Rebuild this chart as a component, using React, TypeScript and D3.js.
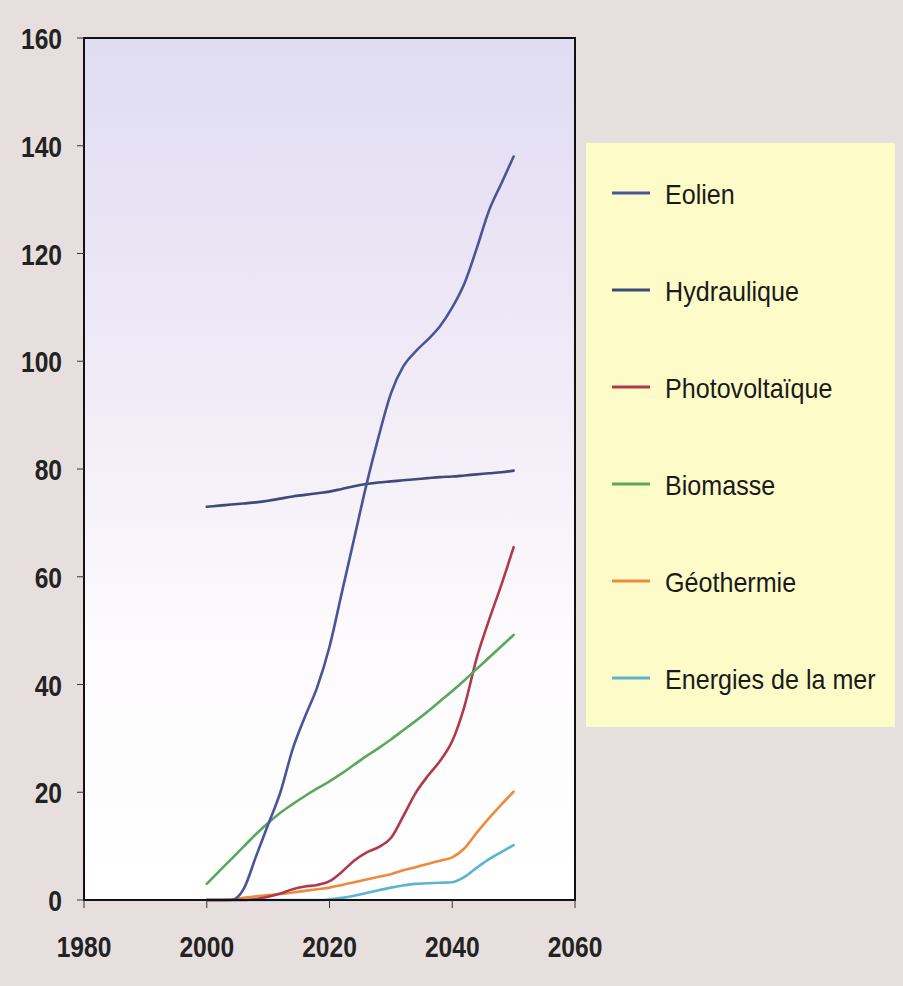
import * as d3 from 'd3';

const years = [2000, 2002, 2004, 2006, 2008, 2010, 2012, 2014, 2016, 2018, 2020, 2022, 2024,
  2026, 2028, 2030, 2032, 2034, 2036, 2038, 2040, 2042, 2044, 2046, 2048, 2050];

const eolien = [0, 0, 0, 2, 8, 14, 20, 28, 34, 39.5, 47, 57, 67,
  77, 86, 94, 99, 101.8, 104, 106.5, 110, 114.5, 121, 128, 133, 138];
const hydraulique = [73, 73.2, 73.4, 73.6, 73.8, 74.1, 74.5, 74.9, 75.2, 75.5, 75.8, 76.3, 76.8,
  77.2, 77.5, 77.7, 77.9, 78.1, 78.3, 78.5, 78.6, 78.8, 79, 79.2, 79.4, 79.7];
const photovoltaique = [0, 0, 0, 0, 0.2, 0.6, 1.2, 2, 2.5, 2.8, 3.5, 5.2, 7.3,
  8.8, 9.8, 11.5, 15.5, 19.8, 23, 25.8, 29.5, 36, 45, 52, 58.5, 65.5];
const biomasse = [3, 5.3, 7.6, 9.9, 12.2, 14.3, 16.2, 17.8, 19.3, 20.7, 22, 23.5, 25.1,
  26.7, 28.2, 29.8, 31.5, 33.2, 35, 36.9, 38.8, 40.8, 42.9, 45, 47.1, 49.2];
const geothermie = [0, 0, 0.1, 0.4, 0.7, 0.9, 1.1, 1.4, 1.7, 2, 2.3, 2.8, 3.3,
  3.8, 4.3, 4.8, 5.5, 6.1, 6.7, 7.3, 7.9, 9.6, 12.5, 15.2, 17.7, 20.1];
const mer = [0, 0, 0, 0, 0, 0, 0, 0, 0, 0, 0.1, 0.4, 0.8,
  1.3, 1.8, 2.3, 2.7, 3, 3.1, 3.2, 3.3, 4.3, 6, 7.6, 8.9, 10.2];

const seriesNames = ['Eolien', 'Hydraulique', 'Photovoltaïque', 'Biomasse', 'Géothermie', 'Energies de la mer'];
const seriesValues = [eolien, hydraulique, photovoltaique, biomasse, geothermie, mer];
const seriesColors = ['#4a5598', '#3f4a78', '#b0394a', '#5aa85e', '#ee8a3e', '#5cb3d2'];

const xTicks = [1980, 2000, 2020, 2040, 2060];
const yTicks = [0, 20, 40, 60, 80, 100, 120, 140, 160];

const W = 903;
const H = 986;
const margin = { left: 84, right: 328, top: 38, bottom: 86 };

const App = () => {
  const x = d3.scaleLinear().domain([1980, 2060]).range([margin.left, W - margin.right]);
  const y = d3.scaleLinear().domain([0, 160]).range([H - margin.bottom, margin.top]);

  const line = d3.line<number>()
    .x((_d, i) => x(years[i]))
    .y((d) => y(d))
    .curve(d3.curveMonotoneX);

  // lines sitting on zero first, so the visible ones end up on top
  const drawOrder = [5, 4, 2, 3, 1, 0];

  const font = "'Liberation Sans', Arial, sans-serif";
  const axisSquash = 0.82;
  const legendSquash = 0.93;

  return (
    <svg width={W} height={H} style={{ position: 'absolute', left: 0, top: 0 }}>
      <defs>
        <linearGradient id="plotBg" x1="0" y1="0" x2="0" y2="1">
          <stop offset="0" stopColor="#e0dcf2" />
          <stop offset="0.45" stopColor="#f2edf7" />
          <stop offset="0.7" stopColor="#fdfbfd" />
          <stop offset="1" stopColor="#ffffff" />
        </linearGradient>
      </defs>
      <rect x={0} y={0} width={W} height={H} fill="#e7dfde" />
      <rect x={x(1980)} y={y(160)} width={x(2060) - x(1980)} height={y(0) - y(160)} fill="url(#plotBg)" />

      {drawOrder.map((i) => (
        <path key={seriesNames[i]} d={line(seriesValues[i]) || ''} fill="none"
          stroke={seriesColors[i]} strokeWidth={2.6} strokeLinejoin="round" strokeLinecap="round" />
      ))}

      <rect x={x(1980)} y={y(160)} width={x(2060) - x(1980)} height={y(0) - y(160)}
        fill="none" stroke="#111" strokeWidth={2} />

      {yTicks.map((t) => (
        <g key={'y' + t}>
          <line x1={x(1980) - 7} x2={x(1980)} y1={y(t)} y2={y(t)} stroke="#333" strokeWidth={1} />
          <g transform={`translate(62,${y(t) + 11}) scale(${axisSquash},1)`}>
            <text textAnchor="end" fontFamily={font} fontWeight="bold" fontSize={30} fill="#222">{t}</text>
          </g>
        </g>
      ))}
      {xTicks.map((t) => (
        <g key={'x' + t}>
          <line x1={x(t)} x2={x(t)} y1={y(0)} y2={y(0) + 8} stroke="#333" strokeWidth={1} />
          <g transform={`translate(${x(t)},957) scale(${axisSquash},1)`}>
            <text textAnchor="middle" fontFamily={font} fontWeight="bold" fontSize={30} fill="#222">{t}</text>
          </g>
        </g>
      ))}

      <rect x={586} y={143} width={309} height={584} fill="#fdfbc7" />
      {seriesNames.map((name, i) => {
        const ly = 193 + i * 97;
        return (
          <g key={'leg' + name}>
            <line x1={612} x2={650} y1={ly} y2={ly} stroke={seriesColors[i]} strokeWidth={3} />
            <g transform={`translate(665,${ly + 11}) scale(${legendSquash},1)`}>
              <text fontFamily={font} fontSize={27} fill="#1a1a1a">{name}</text>
            </g>
          </g>
        );
      })}
    </svg>
  );
};

export default App;
